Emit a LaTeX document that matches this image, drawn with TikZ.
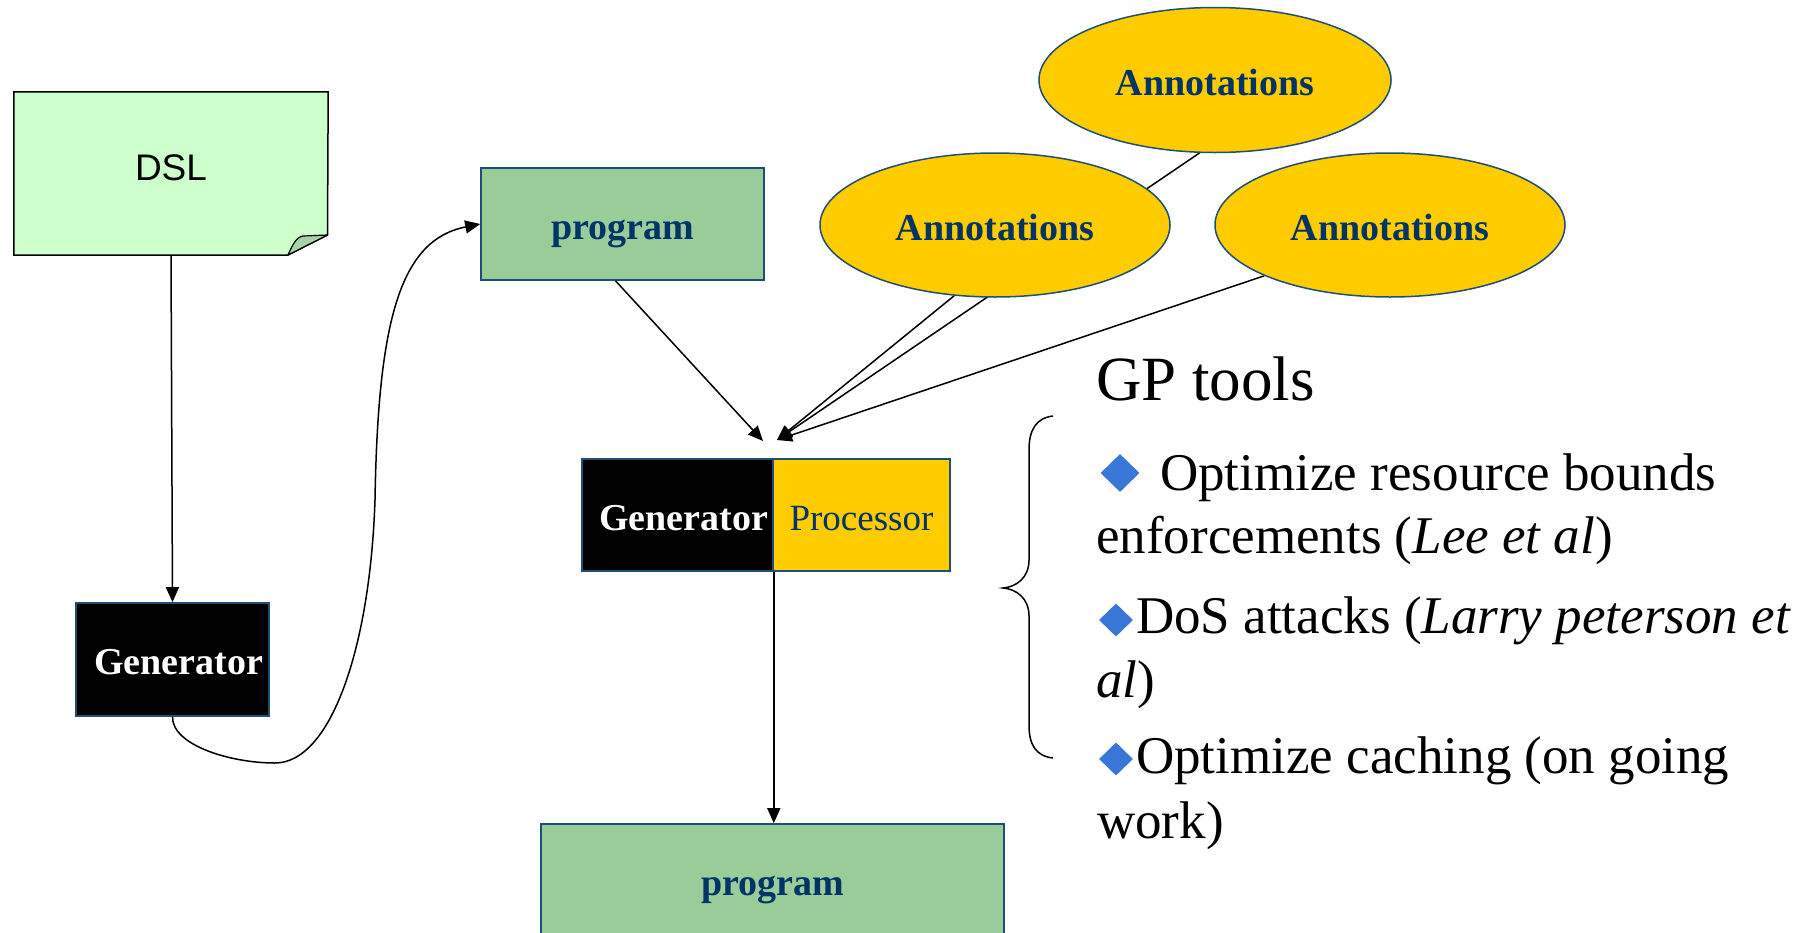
\documentclass[tikz,border=0pt]{standalone}
\usepackage{fontspec}
\setmainfont{Liberation Serif}
\newfontfamily\notefont{Liberation Sans}
\usetikzlibrary{arrows.meta,shapes.geometric,backgrounds}

\definecolor{notegreen}{HTML}{CCFFCC}
\definecolor{foldgreen}{HTML}{A6D4A6}
\definecolor{boxgreen}{HTML}{99CC99}
\definecolor{navy}{HTML}{003366}
\definecolor{gold}{HTML}{FFCC00}
\definecolor{bulletblue}{HTML}{3A76D8}
\definecolor{edgeblue}{HTML}{1F4E79}

\tikzset{
  conn/.style={line width=1.5pt, -{Triangle[length=15pt,width=13pt]}},
  box/.style={rectangle, draw=edgeblue, line width=1.6pt, inner sep=0pt,
    text height=30pt, text depth=0pt,
    font=\fontsize{38pt}{44pt}\selectfont\bfseries},
  progbox/.style={box, fill=boxgreen, text=navy},
  genbox/.style={box, fill=black, text=white},
  procbox/.style={box, fill=gold, text=navy,
    font=\fontsize{37pt}{44pt}\selectfont},
  ann/.style={ellipse, draw=edgeblue, line width=1.5pt, fill=gold, text=navy,
    minimum width=350pt, minimum height=144pt, inner sep=0pt,
    text height=30pt, text depth=0pt,
    font=\fontsize{38pt}{44pt}\selectfont\bfseries},
  txt/.style={anchor=base west, inner sep=0pt,
    font=\fontsize{53pt}{62pt}\selectfont},
  bulletmark/.style={diamond, fill=bulletblue, inner sep=0pt},
}

\begin{document}
\begin{tikzpicture}[x=1pt, y=-1pt]
\useasboundingbox (0,0) rectangle (1809,932);

% DSL note with folded corner
\node[minimum width=314pt, minimum height=163pt, inner sep=0pt,
      text height=13pt, text depth=0pt,
      font=\notefont\fontsize{37pt}{44pt}\selectfont] (dsl) at (171,173.5) {DSL};

% generator boxes (label sits a little right of centre)
\node[genbox, minimum width=193pt, minimum height=113pt] (gen1) at (172.5,659.5) {\hspace*{12pt}Generator};
\node[genbox, minimum width=191pt, minimum height=112pt] (gen2) at (677.5,515) {\hspace*{12pt}Generator};
\node[procbox, minimum width=177pt, minimum height=112pt] (proc) at (861.5,515) {Processor};

% program boxes
\node[progbox, minimum width=283pt, minimum height=112pt] (prog1) at (622.5,224) {program};
\node[progbox, minimum width=463pt, minimum height=112pt] (prog2) at (772.5,880) {program};

% annotation ellipses
\node[ann, minimum width=352pt, minimum height=145pt] (annTop) at (1215,80) {Annotations};
\node[ann] (annL) at (995,225) {Annotations};
\node[ann] (annR) at (1390,225) {Annotations};

\coordinate (tipP) at (763,441);
\coordinate (tipA) at (777,440);

\begin{pgfonlayer}{background}
  \draw[fill=notegreen, line width=1.5pt, line join=miter]
    (dsl.north west) -- (dsl.north east) -- (327.5,235) -- (288,255) -- (dsl.south west) -- cycle;
  \draw[fill=foldgreen, line width=1.2pt, line join=round]
    (288,255) .. controls (292,246) and (296,237) .. (303,236) -- (327.5,235) -- cycle;
  % annotation connectors run behind the ellipses
  \draw[conn] (annTop.258.2) -- (tipA);
  \draw[conn] (annL.240.9) -- (tipA);
  \draw[conn] (annR.202.1) -- (tipA);
\end{pgfonlayer}

% connectors
\draw[conn] (dsl.south) -- (gen1.north);
\draw[conn] (gen1.south) .. controls (172,745) and (230,763) .. (275,763)
  .. controls (330,763) and (370,650) .. (375,500)
  .. controls (378,320) and (400,240) .. (prog1.west);
\draw[conn] ([xshift=-7pt]prog1.south) -- (tipP);
\draw[conn] (gen2.south east) -- (gen2.south east |- prog2.north);

% brace
\draw[line width=1.5pt]
  (1053,416) .. controls (1036,418) and (1029,430) .. (1029,450) -- (1029,560)
  .. controls (1029,578) and (1016,587) .. (1003,588)
  .. controls (1016,589) and (1029,598) .. (1029,616) -- (1029,725)
  .. controls (1029,745) and (1036,756) .. (1053,758);

% GP tools list
\node[anchor=base west, inner sep=0pt, font=\fontsize{63pt}{72pt}\selectfont] (gp) at (1096,400) {GP tools};
\node[bulletmark, minimum width=39pt, minimum height=38pt] (b1) at (1120,473) {};
\node[txt] (l1) at (1160,490) {Optimize resource bounds};
\node[txt] (l2) at (1096,553) {enforcements (\textit{Lee et al})};
\node[bulletmark, minimum width=34pt, minimum height=33pt] (b2) at (1116,620) {};
\node[txt] (l3) at (1136,633) {DoS attacks (\textit{Larry peterson et}};
\node[txt] (l4) at (1096,697) {\textit{al})};
\node[bulletmark, minimum width=34pt, minimum height=33pt] (b3) at (1116,759) {};
\node[txt] (l5) at (1136,773) {Optimize caching (on going};
\node[txt] (l6) at (1097,838) {work)};
\end{tikzpicture}
\end{document}
